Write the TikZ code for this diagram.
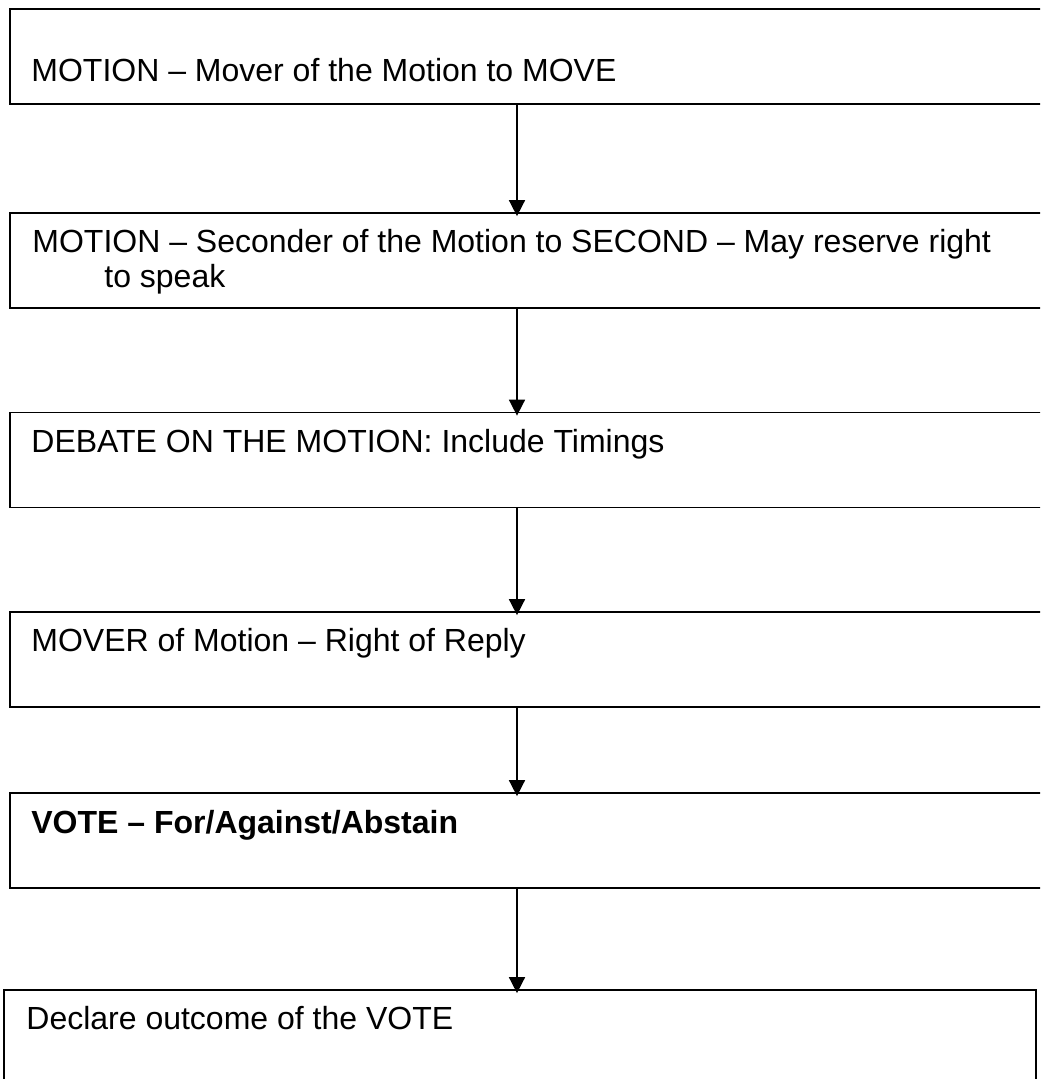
\documentclass[tikz,border=0pt]{standalone}
\usepackage{fontspec}
\setmainfont{Liberation Sans}
\usepackage{tikz}
\usetikzlibrary{calc,arrows.meta}
\tikzstyle{motion}=[
  x=0.75pt,y=-0.75pt,font=\fontsize{24}{26.25}\selectfont
]
\tikzstyle{mbox}=[
  draw,rectangle,line width=1.3pt,inner sep=0pt,minimum width=776.25pt,minimum height=71.25pt
]
\tikzstyle{mtext}=[
  anchor=base west,inner sep=0pt,align=left
]
\tikzstyle{flow}=[
  line width=1.2pt,-{Triangle[width=12pt,length=12pt]},shorten >=-3pt
]

\begin{document}
\begin{tikzpicture}[motion]
    \clip (0,0) rectangle (1040,1079);
      \coordinate (spine) at (517,0);
      \node (m1) at (527.5,56.5) [mbox] {};
      \node (m2) at (527.5,260.5) [mbox] {};
      \node (m3) at (527.5,460) [mbox] {};
      \node (m4) at (527.5,659.5) [mbox] {};
      \node (m5) at (527.5,840.5) [mbox] {};
      \node (m6) at (520,1040) [mbox,minimum width=774pt,minimum height=75pt] {};
      \node (t1) at ($(m1.north west) + (22,73)$) [mtext] {MOTION -- Mover of the Motion to MOVE};
      \node (t2) at ($(m2.north west) + (23,75)$) [mtext] {MOTION -- Seconder of the Motion to SECOND -- May reserve right\\\hspace*{54pt}to speak};
      \node (t3) at ($(m3.north west) + (22,41)$) [mtext] {DEBATE ON THE MOTION: Include Timings};
      \node (t4) at ($(m4.north west) + (22,40)$) [mtext] {MOVER of Motion -- Right of Reply};
      \node (t5) at ($(m5.north west) + (22,41)$) [mtext] {\bfseries VOTE -- For/Against/Abstain};
      \node (t6) at ($(m6.north west) + (23,40)$) [mtext] {Declare outcome of the VOTE};
      \draw [flow] (m1.south -| spine) -- (m2.north -| spine);
      \draw [flow] (m2.south -| spine) -- (m3.north -| spine);
      \draw [flow] (m3.south -| spine) -- (m4.north -| spine);
      \draw [flow] (m4.south -| spine) -- (m5.north -| spine);
      \draw [flow] (m5.south -| spine) -- (m6.north -| spine);
    \end{tikzpicture}
\end{document}
